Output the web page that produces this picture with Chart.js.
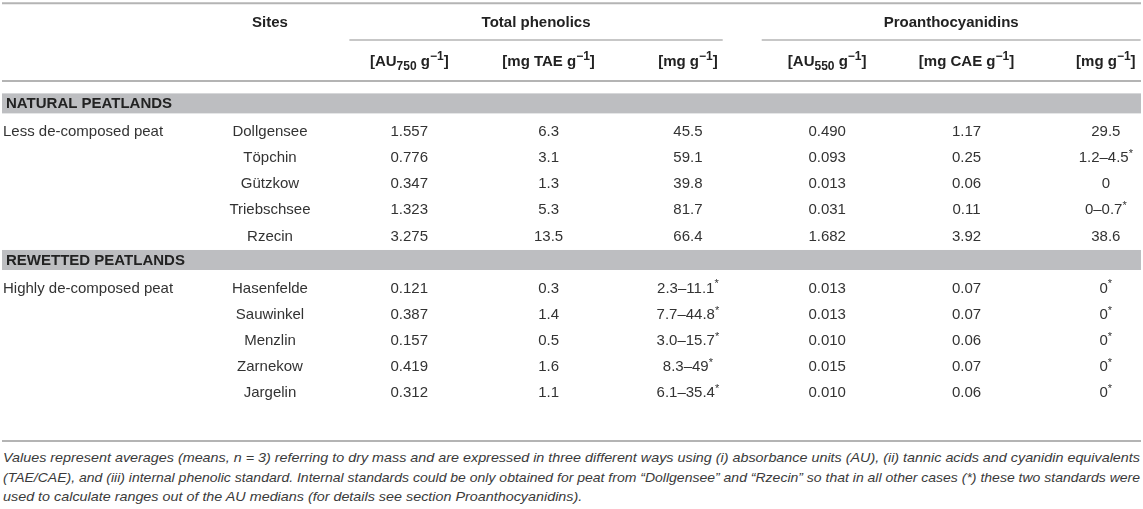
<!DOCTYPE html>
<html>
<head>
<meta charset="utf-8">
<script src="https://cdn.jsdelivr.net/npm/chart.js@4.4.1/dist/chart.umd.min.js"></script>
<style>
html,body{margin:0;padding:0;background:#fff;}
#wrap{position:relative;width:1143px;height:509px;overflow:hidden;}
#tbl{position:absolute;left:0;top:0;}
#note{position:absolute;left:3px;top:448px;width:1137px;font:italic 13.5px "Liberation Sans",Arial,sans-serif;color:#3a3a3a;line-height:19.5px;}
#note div{white-space:nowrap;}
#note span{display:inline-block;transform-origin:0 50%;}
</style>
</head>
<body>
<div id="wrap">
<canvas id="tbl" width="1143" height="445"></canvas>
<div id="note">
<div><span>Values represent averages (means, n = 3) referring to dry mass and are expressed in three different ways using (i) absorbance units (AU), (ii) tannic acids and cyanidin equivalents</span></div>
<div><span>(TAE/CAE), and (iii) internal phenolic standard. Internal standards could be only obtained for peat from “Dollgensee” and “Rzecin” so that in all other cases (*) these two standards were</span></div>
<div><span>used to calculate ranges out of the AU medians (for details see section Proanthocyanidins).</span></div>
</div>
</div>
<script>
// table content
let groupNames=['NATURAL PEATLANDS','REWETTED PEATLANDS'];
let peatTypes=['Less de-composed peat','Highly de-composed peat'];
let siteGroup=[0,0,0,0,0,1,1,1,1,1];
let sites=['Dollgensee','Töpchin','Gützkow','Triebschsee','Rzecin','Hasenfelde','Sauwinkel','Menzlin','Zarnekow','Jargelin'];
let tpAU=['1.557','0.776','0.347','1.323','3.275','0.121','0.387','0.157','0.419','0.312'];
let tpTAE=['6.3','3.1','1.3','5.3','13.5','0.3','1.4','0.5','1.6','1.1'];
let tpMg=['45.5','59.1','39.8','81.7','66.4','2.3–11.1*','7.7–44.8*','3.0–15.7*','8.3–49*','6.1–35.4*'];
let paAU=['0.490','0.093','0.013','0.031','1.682','0.013','0.013','0.010','0.015','0.010'];
let paCAE=['1.17','0.25','0.06','0.11','3.92','0.07','0.07','0.06','0.07','0.06'];
let paMg=['29.5','1.2–4.5*','0','0–0.7*','38.6','0*','0*','0*','0*','0*'];
let groupHeads=['Total phenolics','Proanthocyanidins'];
let unitHeads=['[AU_{750} g^{−1}]','[mg TAE g^{−1}]','[mg g^{−1}]','[AU_{550} g^{−1}]','[mg CAE g^{−1}]','[mg g^{−1}]'];

const FONT='"Liberation Sans", Arial, sans-serif';
const TXT='#333';
const RULE='#b4b4b4';
const BAND='#bdbec1';

// row index of every site: one band row in front of each group
let siteRow=sites.map((s,k)=>k+siteGroup[k]+1);
let bandRow=groupNames.map((g,gi)=>siteRow[siteGroup.indexOf(gi)]-1);

function segs(s){
    let out=[];
    s.split(/(_\{[^}]*\}|\^\{[^}]*\}|\*)/).forEach(p=>{
        if(!p) return;
        if(p.startsWith('_{')) out.push({t:p.slice(2,-1),k:'sub'});
        else if(p.startsWith('^{')) out.push({t:p.slice(2,-1),k:'sup'});
        else if(p=='*') out.push({t:'*',k:'star'});
        else out.push({t:p,k:''});
    });
    return out;
}
function drawRich(ctx,s,x,y,align,size,weight,ratio){
    ratio=ratio||0.74;
    let parts=segs(s);
    let big=weight+' '+size+'px '+FONT;
    let small=weight+' '+Math.round(size*ratio)+'px '+FONT;
    let w=0;
    parts.forEach(p=>{
        ctx.font=p.k?small:big;
        p.w=ctx.measureText(p.t).width;
        w+=p.w;
    });
    let cx=align=='center'?x-w/2:x;
    ctx.textAlign='left';
    ctx.textBaseline='middle';
    parts.forEach(p=>{
        ctx.font=p.k?small:big;
        let dy=0;
        if(p.k=='sub') dy=size*0.3;
        if(p.k=='sup') dy=-size*0.36;
        if(p.k=='star') dy=-size*0.28;
        ctx.fillText(p.t,cx,y+dy);
        cx+=p.w;
    });
}

let cols=[sites,tpAU,tpTAE,tpMg,paAU,paCAE,paMg];
let datasets=cols.map((arr,c)=>({
    label:c==0?'Sites':unitHeads[c-1],
    data:arr.map((v,k)=>({x:c+1,y:siteRow[k]})),
    cellText:arr,
    pointRadius:0,
    showLine:false
}));

// header / rule positions in row units
let hdr={top:-3.93,h1:-3.195,group:-2.525,h2:-1.68,rule:-0.954,bottom:12.84};
let grpLine=[[1.57,4.25],[4.53,7.25]];

const tablePlugin={
    id:'tableCells',
    beforeDatasetsDraw(chart){
        const {ctx,scales:{x,y}}=chart;
        ctx.save();
        ctx.fillStyle=BAND;
        bandRow.forEach((r,gi)=>{
            let cy=y.getPixelForValue(r)-2.5;
            ctx.fillRect(2,cy-10,1139,20);
        });
        ctx.strokeStyle=RULE;
        [['top',2],['rule',2],['bottom',2]].forEach(([k,lw])=>{
            let py=y.getPixelForValue(hdr[k]);
            ctx.lineWidth=lw;
            ctx.beginPath();ctx.moveTo(2,py);ctx.lineTo(1141,py);ctx.stroke();
        });
        ctx.lineWidth=1.5;
        grpLine.forEach(([a,b])=>{
            let py=y.getPixelForValue(hdr.group);
            ctx.beginPath();ctx.moveTo(x.getPixelForValue(a),py);ctx.lineTo(x.getPixelForValue(b),py);ctx.stroke();
        });
        ctx.restore();
    },
    afterDatasetsDraw(chart){
        const {ctx,scales:{x,y}}=chart;
        ctx.save();
        ctx.fillStyle='#222';
        // header rows
        drawRich(ctx,'Sites',x.getPixelForValue(1),y.getPixelForValue(hdr.h1),'center',15,'bold');
        groupHeads.forEach((g,gi)=>{
            let [a,b]=grpLine[gi];
            let cx=(x.getPixelForValue(a)+x.getPixelForValue(b))/2;
            drawRich(ctx,g,cx,y.getPixelForValue(hdr.h1),'center',15,'bold');
        });
        unitHeads.forEach((u,i)=>{
            drawRich(ctx,u,x.getPixelForValue(i+2),y.getPixelForValue(hdr.h2),'center',15,'bold',0.8);
        });
        // band labels
        bandRow.forEach((r,gi)=>{
            drawRich(ctx,groupNames[gi],6,y.getPixelForValue(r)-2,'left',15,'bold');
        });
        // peat type labels
        ctx.fillStyle=TXT;
        peatTypes.forEach((p,gi)=>{
            drawRich(ctx,p,3,y.getPixelForValue(bandRow[gi]+1),'left',15,'normal');
        });
        // cells
        chart.data.datasets.forEach((ds,i)=>{
            chart.getDatasetMeta(i).data.forEach((pt,j)=>{
                drawRich(ctx,ds.cellText[j],pt.x,pt.y,'center',15,'normal');
            });
        });
        ctx.restore();
    }
};

var ctx=document.getElementById('tbl').getContext('2d');
var table=new Chart(ctx,{
    type:'scatter',
    data:{datasets:datasets},
    options:{
        responsive:false,
        animation:false,
        layout:{padding:0},
        plugins:{legend:{display:false},tooltip:{enabled:false}},
        scales:{
            x:{type:'linear',min:-0.938,max:7.267,display:false},
            y:{type:'linear',reverse:true,min:-4.057,max:12.993,display:false}
        }
    },
    plugins:[tablePlugin]
});

// squeeze the note lines like the condensed italic of the original
let spans=document.querySelectorAll('#note span');
let full=1137;
let r0=full/spans[0].getBoundingClientRect().width;
let r1=full/spans[1].getBoundingClientRect().width;
spans[0].style.transform='scaleX('+r0+')';
spans[1].style.transform='scaleX('+r1+')';
spans[2].style.transform='scaleX('+r0+')';
</script>
</body>
</html>
